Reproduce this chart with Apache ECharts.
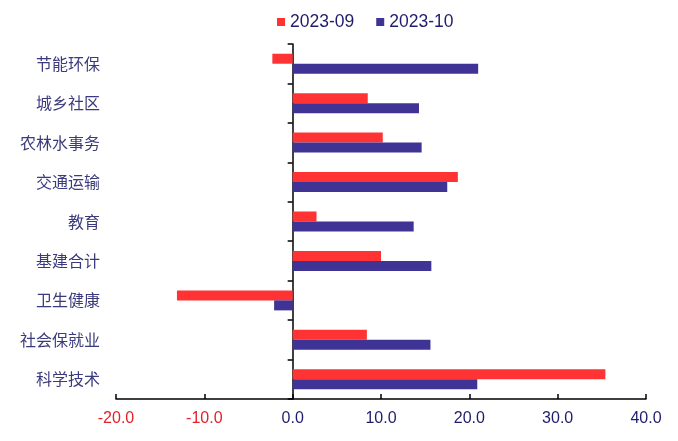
<!DOCTYPE html>
<html>
<head>
    <meta http-equiv="Content-Type" content="text/html; charset=UTF-8">
    <title>财政支出分项</title>
    <script src="https://cdn.jsdelivr.net/npm/echarts@6/dist/echarts.min.js"></script>
    <style>
        html, body { margin: 0; padding: 0; background: #fff; }
    </style>
</head>
<body>
    <div id="main" style="width: 678px;height:441px;"></div>

    <script type="text/javascript">
        // 类别（从上到下）
        var categories = ['节能环保', '城乡社区', '农林水事务', '交通运输', '教育', '基建合计', '卫生健康', '社会保就业', '科学技术'];
        var seriesNames = ['2023-09', '2023-10'];
        var sep = [-2.3, 8.5, 10.2, 18.7, 2.7, 10.0, -13.1, 8.4, 35.4];
        var oct = [21.0, 14.3, 14.6, 17.5, 13.7, 15.7, -2.1, 15.6, 20.9];
        var xTicks = [-20, -10, 0, 10, 20, 30, 40];

        var myChart = echarts.init(document.getElementById('main'));
        myChart.setOption({
            animation: false,
            textStyle: { fontFamily: 'Liberation Sans, Arial, sans-serif' },
            legend: {
                top: 8,
                left: 272,
                itemWidth: 8,
                itemHeight: 8,
                itemGap: 22,
                icon: 'rect',
                textStyle: { fontSize: 17.5, color: '#1f1d6b' },
                data: seriesNames
            },
            grid: { left: 116, right: 32, top: 44, bottom: 42 },
            xAxis: {
                type: 'value',
                min: xTicks[0],
                max: xTicks[xTicks.length - 1],
                interval: 10,
                splitLine: { show: false },
                axisLine: { show: true, lineStyle: { color: '#000', width: 1.5 } },
                axisTick: { show: true, inside: true, length: 5, lineStyle: { color: '#000', width: 1.5 } },
                axisLabel: {
                    fontSize: 16,
                    margin: 12,
                    formatter: function (v) { return v.toFixed(1); },
                    color: function (v) { return Number(v) < 0 ? '#e3222a' : '#1f1d6b'; }
                }
            },
            yAxis: [{
                type: 'category',
                inverse: true,
                data: categories,
                axisLine: { show: false, onZero: false },
                axisTick: { show: false },
                axisLabel: {
                    fontSize: 16,
                    margin: 16,
                    color: '#3b3a7c',
                    fontFamily: 'Noto Sans CJK SC'
                }
            }, {
                type: 'category',
                inverse: true,
                data: categories,
                axisLine: { show: true, onZero: true, lineStyle: { color: '#000', width: 1.5 } },
                axisTick: { show: true, inside: true, length: 5, lineStyle: { color: '#000', width: 1.5 } },
                axisLabel: { show: false }
            }],
            series: [{
                name: seriesNames[0],
                type: 'bar',
                yAxisIndex: 0,
                barWidth: 10,
                barGap: '0%',
                itemStyle: { color: '#ff3333' },
                data: sep
            }, {
                name: seriesNames[1],
                type: 'bar',
                yAxisIndex: 0,
                barWidth: 10,
                barGap: '0%',
                itemStyle: { color: '#3f3495' },
                data: oct
            }]
        });
    </script>
</body>
</html>
